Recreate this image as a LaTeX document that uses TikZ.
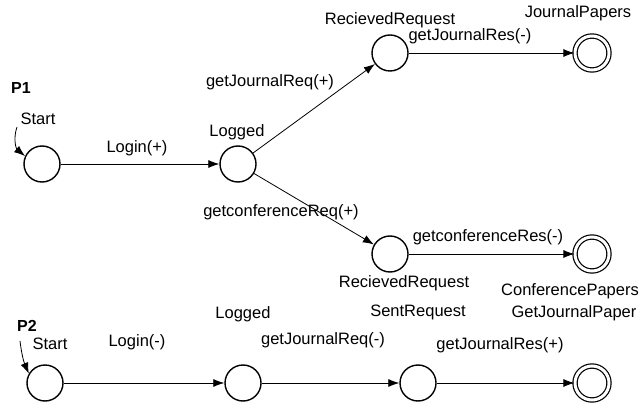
\documentclass[tikz,border=0pt]{standalone}
\usepackage{fontspec}
\setmainfont{Liberation Sans}
\usetikzlibrary{arrows.meta}
\begin{document}
\begin{tikzpicture}[x=1pt,y=-1pt,
  state/.style={circle,draw,line width=1.4pt,minimum size=36pt,inner sep=0pt},
  final/.style={circle,draw,line width=1.2pt,double,double distance=3pt,minimum size=34pt,inner sep=0pt},
  lbl/.style={inner sep=0pt,font=\fontsize{16.5}{19}\selectfont},
  plbl/.style={inner sep=0pt,font=\fontsize{16}{19}\selectfont\bfseries},
  edge/.style={line width=0.8pt,-{Latex[length=11pt,width=8pt]}}]
\useasboundingbox (0,0) rectangle (639,403);
% P1 states
\node[state] (s1) at (42,164) {};
\node[state] (l1) at (238,164) {};
\node[state] (r1) at (390,53) {};
\node[final] (j1) at (592,53) {};
\node[state] (r2) at (390,254) {};
\node[final] (c1) at (592,254) {};
% P2 states
\node[state] (s2) at (45,383) {};
\node[state] (l2) at (243,383) {};
\node[state] (sr) at (418,383) {};
\node[final] (g2) at (592,383) {};
% labels
\node[plbl] (p1) at (21,88) {P1};
\node[lbl] (st1) at (38,119) {Start};
\node[lbl] (t1) at (137,148) {Login(+)};
\node[lbl] (n1) at (237,132) {Logged};
\node[lbl] (t2) at (270,82) {getJournalReq(+)};
\node[lbl] (n2) at (390,20) {RecievedRequest};
\node[lbl] (t3) at (470,36) {getJournalRes(-)};
\node[lbl] (n3) at (578,13) {JournalPapers};
\node[lbl] (t4) at (281,212) {getconferenceReq(+)};
\node[lbl] (t5) at (488,237) {getconferenceRes(-)};
\node[lbl] (n4) at (404,283) {RecievedRequest};
\node[lbl] (n5) at (570,291) {ConferencePapers};
\node[plbl] (p2) at (27,326) {P2};
\node[lbl] (st2) at (50,344) {Start};
\node[lbl] (t6) at (137,342) {Login(-)};
\node[lbl] (n6) at (243,314) {Logged};
\node[lbl] (t7) at (323,340) {getJournalReq(-)};
\node[lbl] (n7) at (418,312) {SentRequest};
\node[lbl] (n8) at (574,313) {GetJournalPaper};
\node[lbl] (t8) at (500,345) {getJournalRes(+)};
% start arrows
\coordinate (a1) at (17,127);
\coordinate (a2) at (20,341);
\draw[edge] (a1) to[bend right=35] (s1.155);
\draw[edge] (a2) to[bend right=8] (s2.150);
% transitions
\draw[edge] (s1) -- (l1);
\draw[edge] (l1) -- (r1);
\draw[edge] (l1) -- (r2);
\draw[edge] (r1) -- (j1);
\draw[edge] (r2) -- (c1);
\draw[edge] (s2) -- (l2);
\draw[edge] (l2) -- (sr);
\draw[edge] (sr) -- (g2);
\end{tikzpicture}
\end{document}
